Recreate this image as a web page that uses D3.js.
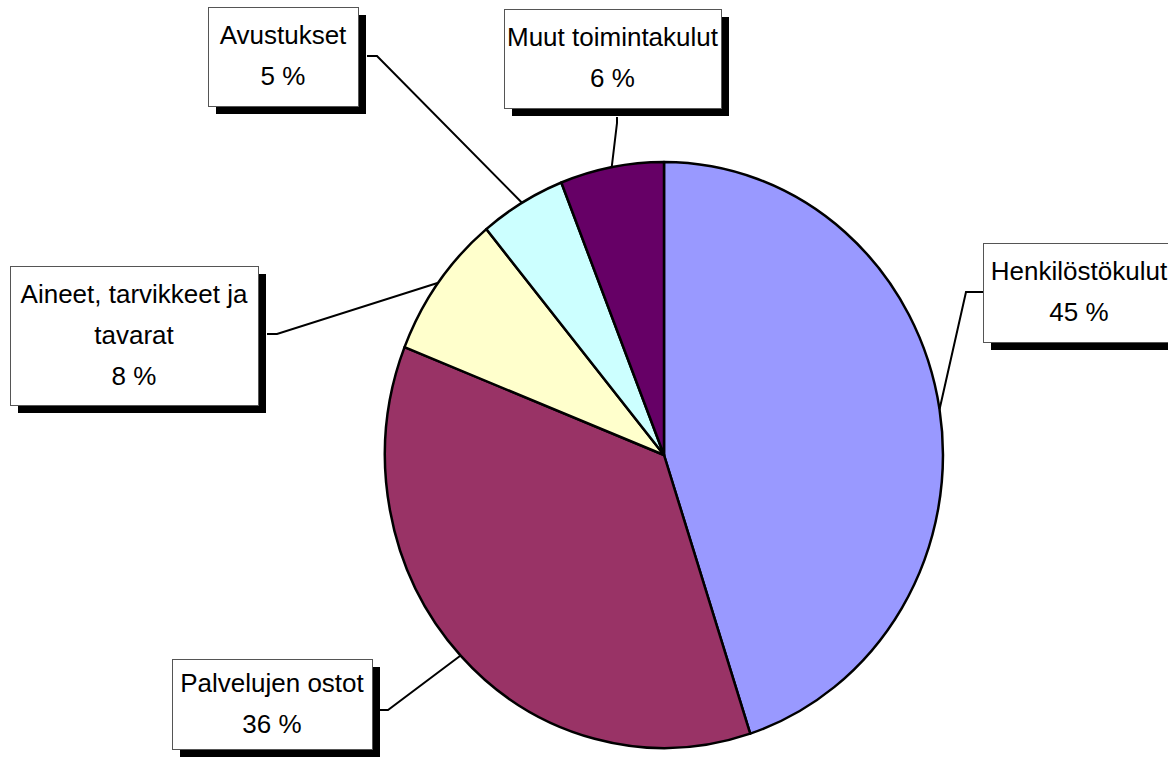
<!DOCTYPE html>
<html>
<head>
<meta charset="utf-8">
<script src="https://cdn.jsdelivr.net/npm/d3@7"></script>
<style>
  body { margin: 0; background: #fff; }
  svg { display: block; font-family: "Liberation Sans", Arial, sans-serif; }
</style>
</head>
<body>
<div id="chart"></div>
<script>
// data
var categories = ["Henkilöstökulut", "Palvelujen ostot", "Aineet, tarvikkeet ja tavarat", "Avustukset", "Muut toimintakulut"];
var values = [45, 36, 8, 5, 6];
var labelLines = [["Henkilöstökulut"], ["Palvelujen ostot"], ["Aineet, tarvikkeet ja", "tavarat"], ["Avustukset"], ["Muut toimintakulut"]];
var colors = ["#9999FF", "#993366", "#FFFFCC", "#CCFFFF", "#660066"];

var width = 1168, height = 763;
var cx = 664, cy = 455, rx = 279, ry = 293;

// label boxes: x, y, w, h, and the elbow point of the leader line
var boxes = [
  {x: 983, y: 243, w: 192, h: 99, ax: 983, ay: 292, ex: 966, ey: 292},
  {x: 172, y: 659, w: 200, h: 90, ax: 380, ay: 710, ex: 388, ey: 710},
  {x: 10, y: 266, w: 248, h: 139, ax: 267, ay: 334, ex: 277, ey: 334},
  {x: 208, y: 7, w: 150, h: 99, ax: 367, ay: 56, ex: 377, ey: 56},
  {x: 504, y: 9, w: 217, h: 99, ax: 617, ay: 117, ex: 617, ey: 123}
];

var data = categories.map(function(c, i) {
  return {name: c, value: values[i], lines: labelLines[i], color: colors[i], box: boxes[i]};
});

var svg = d3.select("#chart")
  .append("svg")
  .attr("width", width)
  .attr("height", height);

var pie = d3.pie().sort(null).value(d => d.value);
var arcs = pie(data);
var arc = d3.arc().innerRadius(0).outerRadius(1);

// pie is slightly taller than wide, so scale a unit pie
var pieGroup = svg.append("g")
  .attr("transform", `translate(${cx},${cy}) scale(${rx},${ry})`);

pieGroup.selectAll("path")
  .data(arcs)
  .enter()
  .append("path")
  .attr("d", arc)
  .attr("fill", d => d.data.color)
  .attr("stroke", "#000")
  .attr("stroke-width", 2.5)
  .attr("stroke-linejoin", "round")
  .attr("vector-effect", "non-scaling-stroke");

// leader lines
svg.selectAll("polyline.leader")
  .data(arcs)
  .enter()
  .append("polyline")
  .attr("class", "leader")
  .attr("fill", "none")
  .attr("stroke", "#000")
  .attr("stroke-width", 2)
  .attr("points", function(d) {
    var a = (d.startAngle + d.endAngle) / 2;
    var px = cx + rx * Math.sin(a), py = cy - ry * Math.cos(a);
    var b = d.data.box;
    return [[b.ax, b.ay], [b.ex, b.ey], [px, py]].join(" ");
  });

// label boxes with shadow
var labels = svg.selectAll("g.label")
  .data(data)
  .enter()
  .append("g")
  .attr("class", "label");

labels.append("rect")
  .attr("x", d => d.box.x + 8)
  .attr("y", d => d.box.y + 8)
  .attr("width", d => d.box.w)
  .attr("height", d => d.box.h)
  .attr("fill", "#000");

labels.append("rect")
  .attr("x", d => d.box.x + 0.5)
  .attr("y", d => d.box.y + 0.5)
  .attr("width", d => d.box.w)
  .attr("height", d => d.box.h)
  .attr("fill", "#fff")
  .attr("stroke", "#555")
  .attr("stroke-width", 1);

labels.each(function(d) {
  var lines = d.lines.concat([d.value + " %"]);
  var n = lines.length;
  var mid = d.box.y + d.box.h / 2;
  d3.select(this).selectAll("text")
    .data(lines)
    .enter()
    .append("text")
    .attr("x", d.box.x + d.box.w / 2)
    .attr("y", (t, i) => mid + (i - (n - 1) / 2) * 41 + 8)
    .attr("text-anchor", "middle")
    .attr("font-size", "26px")
    .attr("fill", "#000")
    .text(t => t);
});
</script>
</body>
</html>
